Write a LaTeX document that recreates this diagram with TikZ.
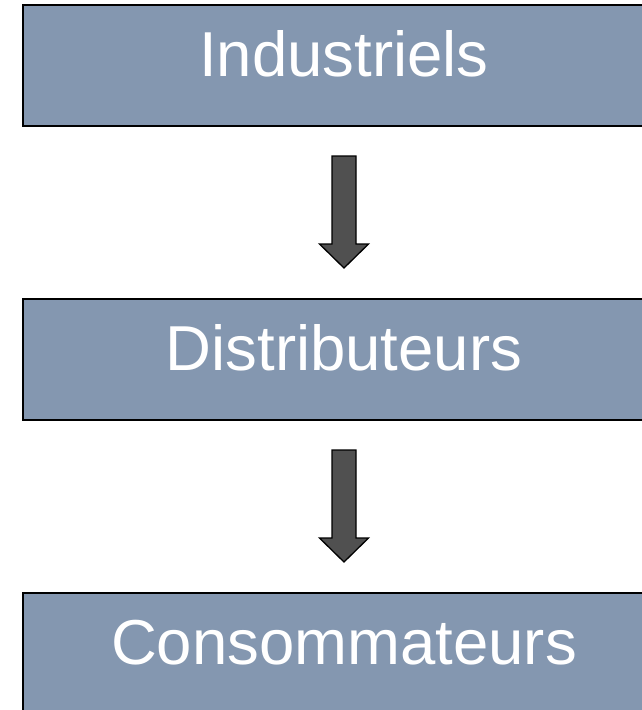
\documentclass[tikz,border=0pt]{standalone}
\usepackage{fontspec}
\setmainfont{Liberation Sans}
\usetikzlibrary{positioning,calc}
\definecolor{boxblue}{HTML}{8497B0}
\definecolor{arrowgrey}{HTML}{505050}

\begin{document}
\begin{tikzpicture}[x=1pt,y=-1pt,
boxnode/.style={rectangle, align=center, draw=black, line width=2pt, fill=boxblue, text=white, font=\fontsize{63.5}{70}\selectfont, minimum width=642pt, minimum height=121pt, inner sep=0pt, outer sep=0pt, text height=22pt, text depth=0pt},
blockarrow/.style={draw=black, line width=1.3pt, fill=arrowgrey, line join=miter},
]
\useasboundingbox (0,0) rectangle (641,710);
%Nodes
\node[boxnode](Industriels) at (344,65.5){Industriels};
\node[boxnode](Distributeurs)[below=173pt of Industriels]{Distributeurs};
\node[boxnode](Consommateurs)[below=173pt of Distributeurs]{Consommateurs};

%Arrows
\draw[blockarrow] ($(Industriels.south)+(-12,30)$) -- ++(24,0) -- ++(0,88) -- ++(12.5,0)
  -- ($(Distributeurs.north)+(0,-31)$) -- ($(Industriels.south)+(-24.5,118)$) -- ++(12.5,0) -- cycle;
\draw[blockarrow] ($(Distributeurs.south)+(-12,30)$) -- ++(24,0) -- ++(0,88) -- ++(12.5,0)
  -- ($(Consommateurs.north)+(0,-31)$) -- ($(Distributeurs.south)+(-24.5,118)$) -- ++(12.5,0) -- cycle;
\end{tikzpicture}
\end{document}
